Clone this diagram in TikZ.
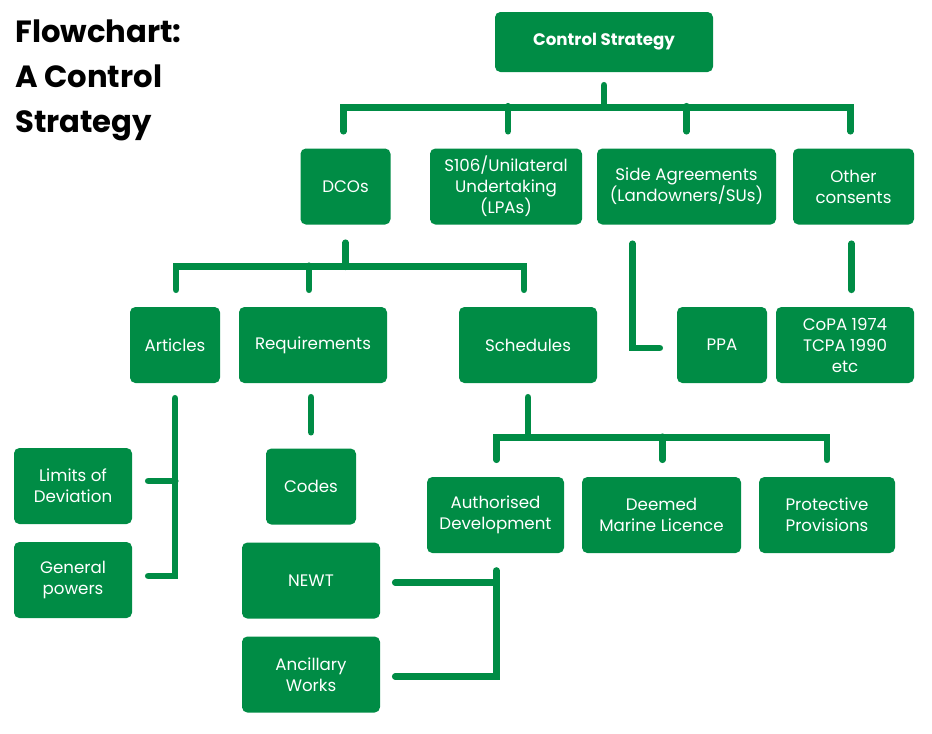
\documentclass[tikz,border=0pt]{standalone}
\usepackage{fontspec}
\setmainfont{Poppins}
\usetikzlibrary{calc}
\definecolor{dcgreen}{RGB}{0,140,69}

\begin{document}
\begin{tikzpicture}[x=0.75pt, y=-0.75pt,
                    main node/.style={rectangle, rounded corners=4pt, fill=dcgreen, text=white, align=center,
                                      inner sep=0pt, minimum height=57pt, font=\fontsize{12.5}{15.75}\selectfont},
                    head node/.style={main node, minimum height=45pt, font=\bfseries\fontsize{12.5}{15.75}\selectfont},
                    link/.style={draw=dcgreen, line width=5pt, line cap=round, line join=miter}]

  \useasboundingbox (0,0) rectangle (932,733);

  \node[anchor=north west, align=left, inner sep=0pt, font=\bfseries\fontsize{23}{33.75}\selectfont] (title) at (15,20) {Flowchart:\\A Control\\Strategy};

  \node[head node, minimum width=163.5pt] (cs) at (604,42) {Control Strategy};

  \node[main node, minimum width=67.5pt] (dco) at (345.5,186.5) {DCOs};
  \node[main node, minimum width=114pt] (s106) at (506,186.5) {S106/Unilateral\\Undertaking\\(LPAs)};
  \node[main node, minimum width=134.25pt] (side) at (686.5,186.5) {Side Agreements\\(Landowners/SUs)};
  \node[main node, minimum width=90.75pt] (oth) at (853.5,186.5) {Other\\consents};

  \node[main node, minimum width=67.5pt] (art) at (175,345) {Articles};
  \node[main node, minimum width=111pt] (req) at (313,345) {Requirements};
  \node[main node, minimum width=103.5pt] (sch) at (528,345) {Schedules};
  \node[main node, minimum width=67.5pt] (ppa) at (722,345) {PPA};
  \node[main node, minimum width=103.5pt] (copa) at (845,345) {CoPA 1974\\TCPA 1990\\etc};

  \node[main node, minimum width=88.5pt] (lim) at (73,486) {Limits of\\Deviation};
  \node[main node, minimum width=88.5pt] (gen) at (73,580) {General\\powers};
  \node[main node, minimum width=67.5pt] (codes) at (311,486.5) {Codes};
  \node[main node, minimum width=103.5pt] (newt) at (311,580.5) {NEWT};
  \node[main node, minimum width=103.5pt] (anc) at (311,674.5) {Ancillary\\Works};

  \node[main node, minimum width=102.75pt] (auth) at (495.5,515) {Authorised\\Development};
  \node[main node, minimum width=119.25pt] (dml) at (661.5,515) {Deemed\\Marine Licence};
  \node[main node, minimum width=102pt] (prov) at (827,515) {Protective\\Provisions};

  % control strategy
  \draw[link] ($(cs.south)+(0,13)$) -- ++(0,22);
  \draw[link] ($(dco.north)+(-2,-17)$) |- ($(cs.south)+(0,35)$) -| ($(oth.north)+(-3,-17)$);
  \draw[link] ($(s106.north)+(2,-17)$) -- ++(0,-25);
  \draw[link] ($(side.north)+(0,-17)$) -- ++(0,-25);

  % DCOs
  \draw[link] ($(dco.south)+(0,18)$) -- ++(0,24);
  \draw[link] ($(art.north)+(1,-17)$) |- ($(dco.south)+(0,42)$) -| ($(sch.north)+(-4,-17)$);
  \draw[link] ($(req.north)+(-4,-17)$) -- ++(0,-24);

  % articles
  \draw[link] ($(art.south)+(0,15)$) |- ($(gen.east)+(16,-4)$);
  \draw[link] ($(lim.east)+(16,-5)$) -- ++(27,0);

  % requirements
  \draw[link] ($(req.south)+(-2,14)$) -- ($(codes.north)+(0,-16)$);
  \draw[link] ($(anc.east)+(15,2)$) -| ($(newt.east)+(116,-10)$);
  \draw[link] ($(newt.east)+(15,2)$) -- ++(101,0);

  % schedules
  \draw[link] ($(sch.south)+(0,14)$) -- ++(0,40);
  \draw[link] ($(auth.north)+(1,-17)$) |- ($(sch.south)+(0,54)$) -| ($(prov.north)+(0,-17)$);
  \draw[link] ($(dml.north)+(1,-17)$) -- ++(0,-23);

  % side agreements, other consents
  \draw[link] ($(side.south)+(-54,19)$) |- ($(ppa.west)+(-17,3)$);
  \draw[link] ($(oth.south)+(-2,19)$) -- ++(0,46);
\end{tikzpicture}
\end{document}
